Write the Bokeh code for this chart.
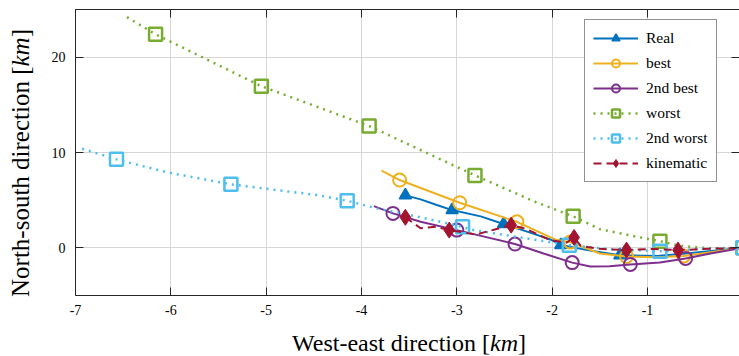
from bokeh.plotting import figure
from bokeh.models import Range1d, FixedTicker, LinearAxis, Div
from bokeh.layouts import row, column
from bokeh.embed import file_html
from bokeh.resources import INLINE

# ---------------- data ----------------
x_ticks = [-7, -6, -5, -4, -3, -2, -1, 0]
y_ticks = [0, 10, 20]

real_x = [-3.59, -3.54, -3.38, -3.21, -3.05, -2.75, -2.51, -2.23, -2.02, -1.91, -1.63, -1.29, -0.9, -0.6, -0.3, 0.0]
real_y = [5.43, 5.5, 5.08, 4.49, 3.96, 3.3, 2.5, 1.6, 0.88, 0.3, -0.24, -0.77, -0.85, -0.6, -0.3, 0.0]
real_mx = [-3.54, -3.05, -2.51, -1.91, -1.29]
real_my = [5.5, 3.96, 2.5, 0.3, -0.77]

best_x = [-3.79, -3.60, -2.97, -2.37, -1.97, -1.81, -1.5, -1.22, -0.9, -0.62, -0.3, 0.0]
best_y = [8.09, 7.11, 4.73, 2.73, 0.88, 0.6, -0.6, -0.9, -1.0, -0.85, -0.4, 0.0]
best_mx = [-3.60, -2.97, -2.37, -1.81, -1.22, -0.62]
best_my = [7.11, 4.73, 2.73, 0.6, -0.9, -0.85]

sb_x = [-3.87, -3.67, -3.38, -3.0, -2.39, -2.09, -1.79, -1.6, -1.4, -1.18, -0.87, -0.60, -0.34, 0.0]
sb_y = [4.38, 3.61, 2.73, 1.86, 0.4, -0.59, -1.55, -1.95, -1.92, -1.74, -1.53, -1.11, -0.59, 0.0]
sb_mx = [-3.67, -3.0, -2.39, -1.79, -1.18, -0.60]
sb_my = [3.61, 1.86, 0.4, -1.55, -1.74, -1.11]

w_x = [-6.46, -6.16, -5.05, -3.92, -2.81, -2.18, -1.78, -1.5, -1.11, -0.87, -0.66, -0.35, 0.0]
w_y = [24.2, 22.4, 16.95, 12.78, 7.6, 4.83, 3.3, 1.96, 1.16, 0.7, 0.21, -0.05, 0.0]
w_mx = [-6.16, -5.05, -3.92, -2.81, -1.78, -0.87, 0.0]
w_my = [22.4, 16.95, 12.78, 7.6, 3.3, 0.7, 0.0]

sw_x = [-6.93, -6.57, -6.04, -5.37, -4.89, -4.47, -4.15, -3.84, -3.38, -2.94, -2.86, -2.16, -1.82, -1.4, -0.87, -0.4, 0.0]
sw_y = [10.4, 9.28, 7.92, 6.66, 6.06, 5.54, 4.94, 4.14, 3.2, 2.2, 1.93, 0.81, 0.28, -0.14, -0.35, -0.1, 0.0]
sw_mx = [-6.57, -5.37, -4.15, -2.94, -1.82, -0.87, 0.0]
sw_my = [9.28, 6.66, 4.94, 2.2, 0.28, -0.35, 0.0]

k_x = [-3.54, -3.38, -3.22, -3.08, -2.8, -2.6, -2.43, -2.28, -2.02, -1.85, -1.77, -1.70, -1.5, -1.22, -0.95, -0.68, -0.35, 0.0]
k_y = [3.2, 2.05, 2.2, 1.86, 1.4, 1.93, 2.38, 2.0, 0.81, 0.55, 1.09, 0.2, -0.1, -0.24, -0.12, -0.24, -0.1, 0.0]
k_mx = [-3.54, -3.08, -2.43, -1.77, -1.22, -0.68]
k_my = [3.2, 1.86, 2.38, 1.09, -0.24, -0.24]

x_label_html = "West-east direction [<i>km</i>]"
y_label_html = "North-south direction [<i>km</i>]"

# ---------------- styles ----------------
C_REAL = "#0072BD"
C_BEST = "#EDB120"
C_SB = "#7E2F8E"
C_W = "#77AC30"
C_SW = "#4DBEEE"
C_K = "#A2142F"
SERIF = "Liberation Serif"
AX = "#262626"

p = figure(width=704, height=330, output_backend="svg", toolbar_location=None,
           x_range=Range1d(-7, -0.035), y_range=Range1d(-5, 25),
           min_border_left=40, min_border_right=0, min_border_top=9, min_border_bottom=35)
p.outline_line_color = None
p.background_fill_color = "white"
p.border_fill_color = "white"

for ax in (p.xaxis[0], p.yaxis[0]):
    ax.axis_line_color = AX
    ax.major_tick_line_color = AX
    ax.major_tick_in = 8
    ax.major_tick_out = 0
    ax.minor_tick_line_color = None
    ax.major_label_text_font = SERIF
    ax.major_label_text_font_size = "14px"
    ax.major_label_text_color = "#000000"
p.xaxis.ticker = FixedTicker(ticks=x_ticks)
p.yaxis.ticker = FixedTicker(ticks=y_ticks)
p.xaxis.major_label_overrides = {float(t): str(t) for t in x_ticks}
p.xaxis.major_label_standoff = 9
p.yaxis.major_label_standoff = 10

top = LinearAxis(ticker=FixedTicker(ticks=x_ticks), major_label_text_font_size="1px",
                 major_label_text_color=None,
                 major_label_standoff=0, major_tick_out=0, major_tick_in=8,
                 axis_line_color=AX, major_tick_line_color=AX, minor_tick_line_color=None)
p.add_layout(top, "above")
right = LinearAxis(ticker=FixedTicker(ticks=y_ticks), major_label_text_font_size="1px",
                   major_label_text_color=None,
                   major_label_standoff=0, major_tick_out=0, major_tick_in=8,
                   axis_line_color=None, major_tick_line_color=AX, minor_tick_line_color=None)
p.add_layout(right, "right")

p.xgrid.grid_line_color = "#d6d6d6"
p.ygrid.grid_line_color = "#d6d6d6"

# ---------------- series ----------------
p.line(real_x, real_y, line_color=C_REAL, line_width=2, legend_label="Real")
p.scatter(real_mx, real_my, marker="triangle", size=12, line_color=C_REAL, fill_color=C_REAL,
          line_width=1.5, legend_label="Real")

p.line(best_x, best_y, line_color=C_BEST, line_width=2, legend_label="best")
p.scatter(best_mx, best_my, marker="circle", size=13, line_color=C_BEST, fill_color=None,
          line_width=2, legend_label="best")

p.line(sb_x, sb_y, line_color=C_SB, line_width=2, legend_label="2nd best")
p.scatter(sb_mx, sb_my, marker="circle", size=13, line_color=C_SB, fill_color=None,
          line_width=2, legend_label="2nd best")

p.line(w_x, w_y, line_color=C_W, line_width=2.5, line_dash="2 5", legend_label="worst")
p.scatter(w_mx, w_my, marker="square", size=13, line_color=C_W, fill_color=None,
          line_width=2.5, legend_label="worst")

p.line(sw_x, sw_y, line_color=C_SW, line_width=2.5, line_dash="2 5", legend_label="2nd worst")
p.scatter(sw_mx, sw_my, marker="square", size=13, line_color=C_SW, fill_color=None,
          line_width=2.5, legend_label="2nd worst")

p.line(k_x, k_y, line_color=C_K, line_width=2, line_dash="8 5", legend_label="kinematic")
p.scatter(k_mx, k_my, marker="diamond", size=16, line_color=C_K, fill_color=C_K,
          line_width=1, legend_label="kinematic")

# ---------------- legend ----------------
lg = p.legend[0]
lg.location = (509, 113)
lg.border_line_color = AX
lg.border_line_width = 1
lg.background_fill_color = "white"
lg.background_fill_alpha = 1
lg.label_text_font = SERIF
lg.label_text_font_size = "15.5px"
lg.label_text_color = "#000000"
lg.glyph_width = 45
lg.glyph_height = 20
lg.label_height = 20
lg.spacing = 5
lg.padding = 8
lg.label_standoff = 8
lg.margin = 0

# ---------------- axis labels as HTML (italic unit) ----------------
ydiv = Div(
    text=('<div style="box-sizing:border-box;width:330px;height:35px;line-height:41px;'
          'text-align:center;white-space:nowrap;font-family:\'Liberation Serif\';'
          'font-size:25px;color:#000;'
          'transform-origin:0 0;transform:rotate(-90deg) translate(-328px,0);">'
          + y_label_html + '</div>'),
    width=35, height=356, margin=0)
xdiv = Div(
    text=('<div style="box-sizing:border-box;width:704px;height:26px;padding-left:44px;'
          'line-height:26px;text-align:center;white-space:nowrap;'
          'font-family:\'Liberation Serif\';font-size:24px;color:#000;">'
          + x_label_html + '</div>'),
    width=704, height=26, margin=0)

layout = row(ydiv, column(p, xdiv, spacing=0), spacing=0)
open("out.html", "w").write(file_html(layout, INLINE))
